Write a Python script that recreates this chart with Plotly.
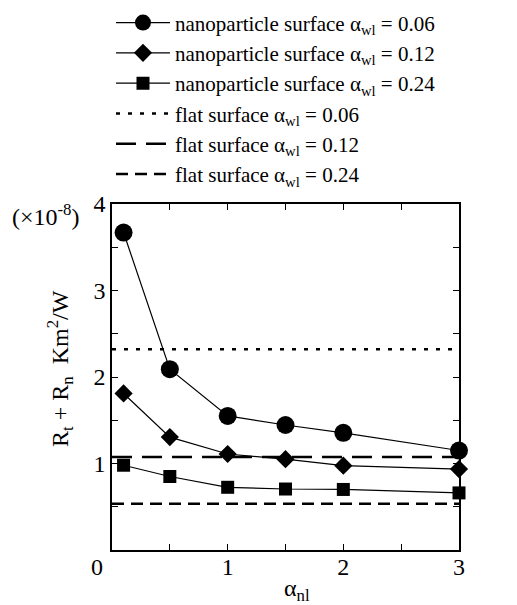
import plotly.graph_objects as go

# ---- data ----
alpha_nl = [0.1, 0.5, 1.0, 1.5, 2.0, 3.0]
np_006 = [3.67, 2.09, 1.55, 1.445, 1.355, 1.15]
np_012 = [1.81, 1.305, 1.11, 1.05, 0.975, 0.935]
np_024 = [0.98, 0.85, 0.725, 0.705, 0.70, 0.66]
flat_x = [0, 3]
flat_006 = 2.32
flat_012 = 1.075
flat_024 = 0.535

x_tickvals = [0, 0.5, 1, 1.5, 2, 2.5, 3]
x_ticktext = ["", "", "1", "", "2", "", "3"]
y_tickvals = [0, 0.5, 1, 1.5, 2, 2.5, 3, 3.5, 4]
y_ticktext = ["", "", "1", "", "2", "", "3", "", "4"]

FONT = "'Liberation Serif', 'Times New Roman', Times, serif"
K = "black"

fig = go.Figure()

def np_trace(y, sym, size, name):
    fig.add_trace(go.Scatter(
        x=alpha_nl, y=y, mode="lines+markers", name=name,
        line=dict(color=K, width=1.2),
        marker=dict(symbol=sym, size=size, color=K),
        cliponaxis=False))

np_trace(np_006, "circle", 18, "nanoparticle surface α<sub>wl</sub> = 0.06")
np_trace(np_012, "diamond", 14, "nanoparticle surface α<sub>wl</sub> = 0.12")
np_trace(np_024, "square", 13, "nanoparticle surface α<sub>wl</sub> = 0.24")

def flat_trace(v, dash, name):
    fig.add_trace(go.Scatter(
        x=flat_x, y=[v, v], mode="lines", name=name,
        line=dict(color=K, width=2.6, dash=dash)))

flat_trace(flat_006, "4px,8px", "flat surface α<sub>wl</sub> = 0.06")
flat_trace(flat_012, "20px,10px", "flat surface α<sub>wl</sub> = 0.12")
flat_trace(flat_024, "12px,7px", "flat surface α<sub>wl</sub> = 0.24")

axis_common = dict(
    showline=True, linecolor=K, linewidth=1.5, mirror="ticks",
    ticks="inside", ticklen=6, tickwidth=1.2, tickcolor=K,
    showgrid=False, zeroline=False, automargin=False,
    tickfont=dict(family=FONT, size=24, color=K),
)

fig.update_xaxes(range=[0, 3], tickmode="array", tickvals=x_tickvals,
                 ticktext=x_ticktext, ticklabelstandoff=-6, **axis_common)
fig.update_yaxes(range=[0, 4], tickmode="array", tickvals=y_tickvals,
                 ticktext=y_ticktext, **axis_common)

ann_font = dict(family=FONT, size=24, color=K)
fig.add_annotation(xref="paper", yref="paper", x=-0.15, y=0.526,
                   text="R<sub>t</sub> + R<sub>n</sub>\u00a0\u00a0Km<sup>2</sup>/W",
                   textangle=-90, showarrow=False, font=ann_font,
                   xanchor="center", yanchor="middle")
fig.add_annotation(xref="paper", yref="paper", x=-0.19, y=0.968,
                   text="(×10<sup>-8</sup>)", showarrow=False, font=ann_font,
                   xanchor="center", yanchor="middle")
fig.add_annotation(xref="paper", yref="paper", x=0.533, y=-0.116,
                   text="α<sub>nl</sub>", showarrow=False, font=ann_font,
                   xanchor="center", yanchor="middle")
fig.add_annotation(xref="paper", yref="paper", x=-0.043, y=-0.049,
                   text="0", showarrow=False, font=ann_font,
                   xanchor="center", yanchor="middle")

fig.update_layout(
    width=517, height=605,
    margin=dict(l=112, r=58, t=204, b=55, autoexpand=False),
    paper_bgcolor="white", plot_bgcolor="white",
    font=dict(family=FONT, color=K),
    showlegend=True,
    legend=dict(xref="container", yref="container",
                x=0.2147, y=0.996, xanchor="left", yanchor="top",
                font=dict(family=FONT, size=21, color=K),
                bgcolor="rgba(0,0,0,0)", itemwidth=54,
                tracegroupgap=0, traceorder="normal"),
)

fig.write_html("out.html")
